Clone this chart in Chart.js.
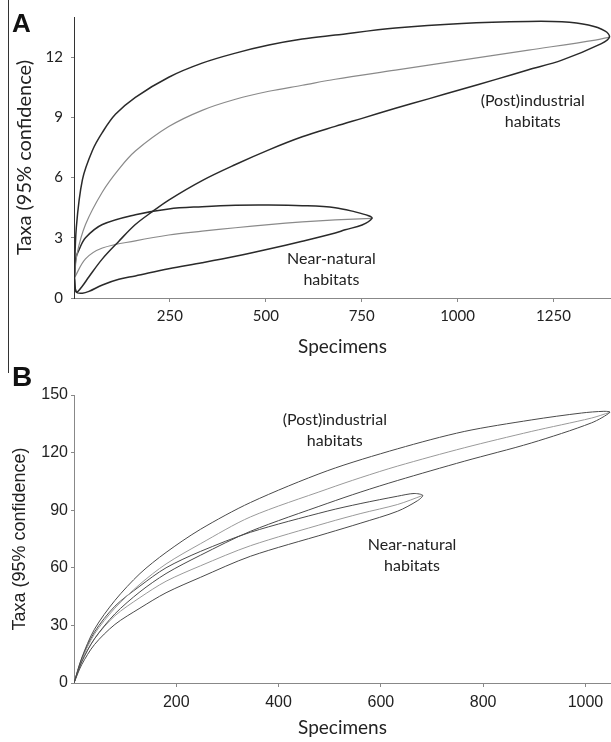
<!DOCTYPE html>
<html>
<head>
<meta charset="utf-8">
<title>Rarefaction - A i B</title>
<script src="https://cdn.jsdelivr.net/npm/chart.js@4.4.1/dist/chart.umd.min.js"></script>
<style>
  body { margin: 0; background: #fff; }
  #wrap { position: relative; width: 611px; height: 742px; overflow: hidden; }
  .panel { position: absolute; left: 0; }
  .tag { position: absolute; left: 12px; line-height: 1; font-weight: bold; font-family: "Liberation Sans", Arial, sans-serif; color: #111; }
  #frame { position: absolute; left: 8px; top: 0; width: 1px; height: 373px; background: #333; }
</style>
</head>
<body>
<div id="wrap">
  <div class="panel" style="top:0"><canvas id="wykresA" width="611" height="360"></canvas></div>
  <div class="panel" style="top:360px"><canvas id="wykresB" width="611" height="382"></canvas></div>
  <div id="frame"></div>
  <div class="tag" style="top:10px;font-size:26px">A</div>
  <div class="tag" style="top:363px;font-size:28px">B</div>
</div>

<script>
// ---- panel A: [specimens, taxa] ----
const aIndUpper = [[1,1],[6,3.5],[22,5.9],[48,7.35],[74,8.25],[108,9.15],[160,10.0],[247,11.0],[334,11.7],[421,12.2],[508,12.6],[595,12.9],[681,13.1],[838,13.45],[1011,13.68],[1185,13.78],[1272,13.76],[1341,13.6],[1385,13.3]];
const aIndLower = [[1,1],[6,0.3],[22,0.6],[39,1.06],[74,1.95],[117,2.83],[160,3.66],[204,4.3],[247,4.88],[334,5.85],[421,6.65],[508,7.38],[595,8.03],[681,8.55],[751,8.95],[838,9.45],[924,9.92],[1011,10.4],[1098,10.88],[1185,11.37],[1272,11.85],[1375,12.67]];
const aIndMean  = [[1,1],[8,2.2],[30,3.66],[74,5.28],[117,6.42],[160,7.32],[247,8.54],[334,9.35],[421,9.9],[508,10.3],[595,10.6],[681,10.9],[838,11.35],[1011,11.85],[1185,12.35],[1359,12.85]];
const aIndTip   = [1396, 13.0];

const aNatUpper = [[1,1],[5,2.0],[13,2.4],[30,3.0],[74,3.66],[160,4.15],[247,4.44],[334,4.55],[421,4.62],[508,4.63],[595,4.6],[681,4.5],[733,4.29],[768,4.1]];
const aNatLower = [[1,1],[6,0.3],[22,0.24],[39,0.33],[74,0.65],[117,0.93],[160,1.1],[247,1.46],[334,1.76],[421,2.08],[508,2.44],[595,2.83],[681,3.24],[707,3.4],[751,3.64]];
const aNatMean  = [[1,1],[30,1.95],[74,2.49],[160,2.85],[247,3.14],[334,3.33],[421,3.5],[508,3.66],[595,3.79],[681,3.89]];
const aNatTip   = [777, 3.97];

const aYTicks = [0, 3, 6, 9, 12];
const aXTicks = [250, 500, 750, 1000, 1250];

// ---- panel B ----
const bIndUpper = [[0,0],[15,13],[40,28],[80,43],[129,57],[180,68],[247,80],[345,94],[495,110.5],[633,122],[763,131],[894,137],[992,140.6],[1036,141.5]];
const bIndLower = [[0,0],[15,11],[40,23],[80,36],[129,47.5],[180,57],[247,66.5],[345,79],[495,93.5],[561,99.5],[633,105.5],[763,115.5],[894,125],[1012,135.5]];
const bIndMean  = [[0,0],[15,12],[40,25.5],[80,39],[129,51.5],[180,62],[247,72.5],[345,86.5],[495,101],[561,107],[633,113],[763,122.5],[894,131],[1012,138]];
const bIndTip   = [1048, 141.0];

const bNatUpper = [[0,0],[15,12.5],[40,26.5],[80,40],[129,50.5],[180,60],[247,68.5],[345,78.5],[495,89.5],[561,93.5],[633,97.3],[665,98.7]];
const bNatLower = [[0,0],[15,9.5],[40,20],[80,30.5],[129,39],[180,47],[247,55],[345,66],[495,78],[561,83.3],[633,89.5],[672,95]];
const bNatMean  = [[0,0],[15,11],[40,23],[80,35],[129,44.5],[180,53],[247,61],[345,71.5],[495,83.5],[561,88.3],[633,93]];
const bNatTip   = [682, 97.7];

const bYTicks = [0, 30, 60, 90, 120, 150];
const bXTicks = [200, 400, 600, 800, 1000];

// ---- napisy ----
const aNapisy = [
  {x: 1196, y: 9.84, lines: ['(Post)industrial', 'habitats']},
  {x: 671, y: 1.96, lines: ['Near-natural', 'habitats']}
];
const bNapisy = [
  {x: 510, y: 137, lines: ['(Post)industrial', 'habitats']},
  {x: 661, y: 71.9, lines: ['Near-natural', 'habitats']}
];

function pkt(a) { return {x: a[0], y: a[1]}; }
// upper bound out to the tip and the lower bound back: one closed loop
function petla(upper, tip, lower) {
  return upper.concat([tip], lower.slice().reverse()).map(pkt);
}
function srednia(mean, tip) {
  return mean.concat([tip]).map(pkt);
}

const napisy = {
  id: 'napisy',
  afterDatasetsDraw(chart, args, opts) {
    const ctx = chart.ctx;
    ctx.save();
    ctx.font = opts.font;
    ctx.fillStyle = '#222';
    ctx.textAlign = 'center';
    ctx.textBaseline = 'middle';
    opts.items.forEach(it => {
      const x = chart.scales.x.getPixelForValue(it.x);
      const y = chart.scales.y.getPixelForValue(it.y);
      it.lines.forEach((t, i) => ctx.fillText(t, x, y + i * opts.lineHeight));
    });
    ctx.restore();
  }
};

function linia(data, color, width, t) {
  return {data: data, showLine: true, borderColor: color, borderWidth: width,
          pointRadius: 0, tension: t, fill: false};
}

function wykres(id, cfg) {
  return new Chart(document.getElementById(id).getContext('2d'), {
    type: 'scatter',
    data: {datasets: cfg.datasets},
    plugins: [napisy],
    options: {
      responsive: false,
      animation: false,
      devicePixelRatio: 1,
      layout: {padding: {top: cfg.top, right: 0, bottom: 0, left: 0}},
      plugins: {
        legend: {display: false},
        tooltip: {enabled: false},
        napisy: {items: cfg.napisy, font: '16px Lato', lineHeight: 21}
      },
      scales: {
        x: {
          type: 'linear', min: 0, max: cfg.xMax,
          afterFit: s => { s.height = cfg.xHeight; },
          afterBuildTicks: s => { s.ticks = cfg.xTicks.map(v => ({value: v})); },
          border: {color: cfg.xAxisColor, width: 1},
          grid: {drawOnChartArea: false, drawTicks: true, tickLength: 4, color: '#888'},
          ticks: {color: '#222', padding: cfg.xPad, font: cfg.tickFont, maxRotation: 0,
                  callback: v => String(v)},
          title: {display: true, text: 'Specimens', color: '#222',
                  font: {family: 'Lato', size: 19}, padding: {top: 0, bottom: cfg.xTitlePad}}
        },
        y: {
          type: 'linear', min: 0, max: cfg.yMax,
          afterFit: s => { s.width = 74; },
          afterBuildTicks: s => { s.ticks = cfg.yTicks.map(v => ({value: v})); },
          border: {color: cfg.yAxisColor, width: 1},
          grid: {drawOnChartArea: false, drawTicks: true, tickLength: 3, color: '#888'},
          ticks: {color: '#222', padding: cfg.yPad, font: cfg.tickFont, callback: v => String(v)},
          title: {display: true, text: 'Taxa (95% confidence)', color: '#222',
                  font: cfg.yTitleFont, padding: {top: cfg.yTitlePad, bottom: 0}}
        }
      }
    }
  });
}

var wykresA = wykres('wykresA', {
  top: 12, xMax: 1400, yMax: 14, xHeight: 62, xPad: 5, yPad: 8, xTitlePad: 2,
  xTicks: aXTicks, yTicks: aYTicks, xAxisColor: '#888', yAxisColor: '#333',
  tickFont: {family: 'Lato', size: 15},
  yTitleFont: {family: 'Lato', size: 20}, yTitlePad: 13,
  napisy: aNapisy,
  datasets: [
    linia(petla(aIndUpper, aIndTip, aIndLower), '#2a2a2a', 1.5, 0.35),
    linia(srednia(aIndMean, aIndTip), '#8a8a8a', 1.2, 0.35),
    linia(petla(aNatUpper, aNatTip, aNatLower), '#2a2a2a', 1.5, 0.35),
    linia(srednia(aNatMean, aNatTip), '#8a8a8a', 1.2, 0.35)
  ]
});

var wykresB = wykres('wykresB', {
  top: 35, xMax: 1050, yMax: 150, xHeight: 59, xPad: 6, yPad: 3, xTitlePad: 3,
  xTicks: bXTicks, yTicks: bYTicks, xAxisColor: '#888', yAxisColor: '#888',
  tickFont: {family: 'Liberation Sans', size: 16},
  yTitleFont: {family: 'Liberation Sans', size: 18}, yTitlePad: 9,
  napisy: bNapisy,
  datasets: [
    linia(petla(bIndUpper, bIndTip, bIndLower), '#4a4a4a', 1, 0.3),
    linia(srednia(bIndMean, bIndTip), '#9a9a9a', 1, 0.3),
    linia(petla(bNatUpper, bNatTip, bNatLower), '#4a4a4a', 1, 0.3),
    linia(srednia(bNatMean, bNatTip), '#9a9a9a', 1, 0.3)
  ]
});
</script>
</body>
</html>
